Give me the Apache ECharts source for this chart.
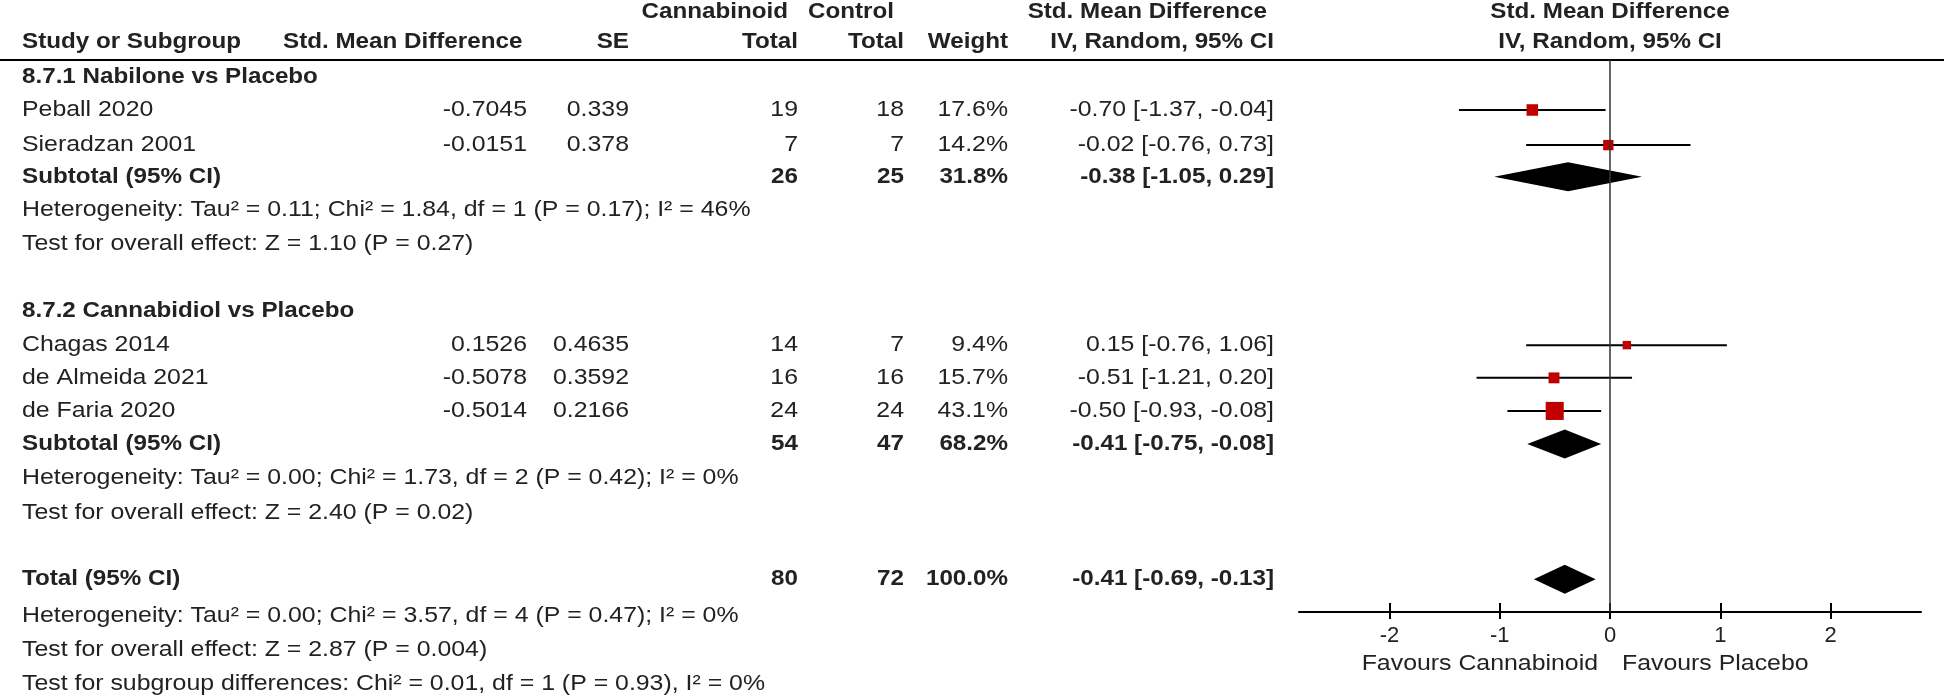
<!DOCTYPE html>
<html><head><meta charset="utf-8">
<script src="https://cdn.jsdelivr.net/npm/echarts@6/dist/echarts.min.js"></script>
<style>html,body{margin:0;padding:0;background:#fff}#c{width:1944px;height:697px}</style>
</head><body><div id="c"></div>
<script>
// ---------- data ----------
const studies   = ['Peball 2020', 'Sieradzan 2001', 'Chagas 2014', 'de Almeida 2021', 'de Faria 2020'];
const smd       = [-0.7045, -0.0151, 0.1526, -0.5078, -0.5014];
const se        = [0.339, 0.378, 0.4635, 0.3592, 0.2166];
const cannTotal = [19, 7, 14, 16, 24];
const ctrlTotal = [18, 7, 7, 16, 24];
const weight    = [17.6, 14.2, 9.4, 15.7, 43.1];
const ciLow     = [-1.37, -0.76, -0.76, -1.21, -0.93];
const ciHigh    = [-0.04, 0.73, 1.06, 0.20, -0.08];

const subgroups = ['8.7.1 Nabilone vs Placebo', '8.7.2 Cannabidiol vs Placebo'];
const subCann   = [26, 54];
const subCtrl   = [25, 47];
const subWeight = [31.8, 68.2];
const subEst    = [-0.38, -0.41];
const subLow    = [-1.05, -0.75];
const subHigh   = [0.29, -0.08];
const subHet    = ['Heterogeneity: Tau² = 0.11; Chi² = 1.84, df = 1 (P = 0.17); I² = 46%',
                   'Heterogeneity: Tau² = 0.00; Chi² = 1.73, df = 2 (P = 0.42); I² = 0%'];
const subTest   = ['Test for overall effect: Z = 1.10 (P = 0.27)',
                   'Test for overall effect: Z = 2.40 (P = 0.02)'];

const totCann = 80, totCtrl = 72, totWeight = 100.0, totEst = -0.41, totLow = -0.69, totHigh = -0.13;
const totHet  = 'Heterogeneity: Tau² = 0.00; Chi² = 3.57, df = 4 (P = 0.47); I² = 0%';
const totTest = 'Test for overall effect: Z = 2.87 (P = 0.004)';
const diffTest = 'Test for subgroup differences: Chi² = 0.01, df = 1 (P = 0.93), I² = 0%';

const xTicks = [-2, -1, 0, 1, 2];
const favours = ['Favours Cannabinoid', 'Favours Placebo'];

// ---------- layout ----------
const FONT = 'Liberation Sans, Arial, sans-serif';
const FS = 22, SXR = 1.13, SXB = 1.1, TXT = '#222';
const studyRow = [0, 1.05, 7.04, 8.02, 9.01];
const subTitleRow = [-1, 6.02], subTotalRow = [2, 10], subHetRow = [3, 11.02], subTestRow = [4.02, 12.05];
const totRow = 14.05, totHetRow = 15.15, totTestRow = 16.17, diffRow = 17.17;
const COL = {label: 22, smd: 527, se: 629, cann: 798, ctrl: 904, wt: 1008, ci: 1274};

const ciText = (e, l, h) => e.toFixed(2) + ' [' + l.toFixed(2) + ', ' + h.toFixed(2) + ']';

const tableRows = [];
studies.forEach((s, i) => tableRows.push({r: studyRow[i], cells: [
  {t: s, x: COL.label, a: 'left'},
  {t: String(smd[i]), x: COL.smd, a: 'right'},
  {t: String(se[i]), x: COL.se, a: 'right'},
  {t: String(cannTotal[i]), x: COL.cann, a: 'right'},
  {t: String(ctrlTotal[i]), x: COL.ctrl, a: 'right'},
  {t: weight[i].toFixed(1) + '%', x: COL.wt, a: 'right'},
  {t: ciText(smd[i], ciLow[i], ciHigh[i]), x: COL.ci, a: 'right'}
]}));
subgroups.forEach((g, i) => {
  tableRows.push({r: subTitleRow[i], cells: [{t: g, x: COL.label, a: 'left', b: 1}]});
  tableRows.push({r: subTotalRow[i], cells: [
    {t: 'Subtotal (95% CI)', x: COL.label, a: 'left', b: 1},
    {t: String(subCann[i]), x: COL.cann, a: 'right', b: 1},
    {t: String(subCtrl[i]), x: COL.ctrl, a: 'right', b: 1},
    {t: subWeight[i].toFixed(1) + '%', x: COL.wt, a: 'right', b: 1},
    {t: ciText(subEst[i], subLow[i], subHigh[i]), x: COL.ci, a: 'right', b: 1}
  ]});
  tableRows.push({r: subHetRow[i], cells: [{t: subHet[i], x: COL.label, a: 'left'}]});
  tableRows.push({r: subTestRow[i], cells: [{t: subTest[i], x: COL.label, a: 'left'}]});
});
tableRows.push({r: totRow, cells: [
  {t: 'Total (95% CI)', x: COL.label, a: 'left', b: 1},
  {t: String(totCann), x: COL.cann, a: 'right', b: 1},
  {t: String(totCtrl), x: COL.ctrl, a: 'right', b: 1},
  {t: totWeight.toFixed(1) + '%', x: COL.wt, a: 'right', b: 1},
  {t: ciText(totEst, totLow, totHigh), x: COL.ci, a: 'right', b: 1}
]});
tableRows.push({r: totHetRow, cells: [{t: totHet, x: COL.label, a: 'left'}]});
tableRows.push({r: totTestRow, cells: [{t: totTest, x: COL.label, a: 'left'}]});
tableRows.push({r: diffRow, cells: [{t: diffTest, x: COL.label, a: 'left'}]});

function txt(t, x, y, align, bold) {
  return {type: 'text', x: x, y: y, scaleX: bold ? SXB : SXR, silent: true,
    style: {text: t, x: 0, y: 0, fill: TXT, fontSize: FS, fontFamily: FONT,
            fontWeight: bold ? 'bold' : 'normal', align: align, verticalAlign: 'middle'}};
}

const headerGraphics = [
  txt('Cannabinoid', 788, 12, 'right', 1),
  txt('Control', 894, 12, 'right', 1),
  txt('Std. Mean Difference', 1267, 12, 'right', 1),
  txt('Std. Mean Difference', 1610, 12, 'center', 1),
  txt('Study or Subgroup', COL.label, 42, 'left', 1),
  txt('Std. Mean Difference', 283, 42, 'left', 1),
  txt('SE', COL.se, 42, 'right', 1),
  txt('Total', COL.cann, 42, 'right', 1),
  txt('Total', COL.ctrl, 42, 'right', 1),
  txt('Weight', COL.wt, 42, 'right', 1),
  txt('IV, Random, 95% CI', COL.ci, 42, 'right', 1),
  txt('IV, Random, 95% CI', 1610, 42, 'center', 1),
  txt(favours[0], 1598, 664, 'right', 0),
  txt(favours[1], 1622, 664, 'left', 0),
  {type: 'line', silent: true, shape: {x1: 0, y1: 60, x2: 1944, y2: 60}, style: {stroke: '#000', lineWidth: 2}}
];

const chart = echarts.init(document.getElementById('c'));
chart.setOption({
  animation: false,
  backgroundColor: '#fff',
  grid: {left: 1299, width: 622, top: 60, bottom: 85},
  xAxis: [{
    type: 'value', min: -2.82, max: 2.82, position: 'bottom',
    splitLine: {show: false},
    axisLine: {onZero: false, lineStyle: {color: '#000', width: 2}},
    axisTick: {customValues: xTicks, length: 7, lineStyle: {color: '#000', width: 2}},
    axisLabel: {customValues: xTicks, fontSize: FS, fontFamily: FONT, color: TXT, margin: 13}
  }, {
    type: 'value', min: -2.82, max: 2.82, position: 'bottom',
    splitLine: {show: false},
    axisLine: {show: false, onZero: false},
    axisTick: {customValues: xTicks, inside: true, length: 9, lineStyle: {color: '#000', width: 2}},
    axisLabel: {show: false}
  }],
  yAxis: {type: 'value', min: -1.497, max: 15.03, inverse: true, show: false},
  graphic: headerGraphics,
  series: [{
    type: 'custom', name: 'studies', clip: false, silent: true,
    data: smd.map((v, i) => [v, ciLow[i], ciHigh[i], studyRow[i], weight[i]]),
    renderItem: (params, api) => {
      const r = api.value(3);
      const p = api.coord([api.value(0), r]);
      const a = api.coord([api.value(1), r]);
      const b = api.coord([api.value(2), r]);
      const s = 2.75 * Math.sqrt(api.value(4));
      return {type: 'group', children: [
        {type: 'line', shape: {x1: a[0], y1: a[1], x2: b[0], y2: b[1]}, style: {stroke: '#000', lineWidth: 2}},
        {type: 'rect', shape: {x: p[0] - s / 2, y: p[1] - s / 2, width: s, height: s}, style: {fill: '#c00000'}}
      ]};
    },
    markLine: {silent: true, symbol: 'none', label: {show: false},
      lineStyle: {color: '#333', width: 1.5, type: 'solid'}, data: [{xAxis: 0}]}
  }, {
    type: 'custom', name: 'diamonds', clip: false, silent: true,
    data: subEst.map((v, i) => [v, subLow[i], subHigh[i], subTotalRow[i]]).concat([[totEst, totLow, totHigh, totRow]]),
    renderItem: (params, api) => {
      const r = api.value(3);
      const p = api.coord([api.value(0), r]);
      const a = api.coord([api.value(1), r]);
      const b = api.coord([api.value(2), r]);
      const h = 14.5;
      return {type: 'polygon', shape: {points: [[a[0], p[1]], [p[0], p[1] - h], [b[0], p[1]], [p[0], p[1] + h]]},
        style: {fill: '#000'}};
    }
  }, {
    type: 'custom', name: 'table', clip: false, silent: true,
    data: tableRows.map(row => [0, row.r]),
    renderItem: (params, api) => {
      const row = tableRows[params.dataIndex];
      const y = api.coord([0, api.value(1)])[1];
      return {type: 'group', children: row.cells.map(c => txt(c.t, c.x, y, c.a, c.b))};
    }
  }]
});
</script></body></html>
